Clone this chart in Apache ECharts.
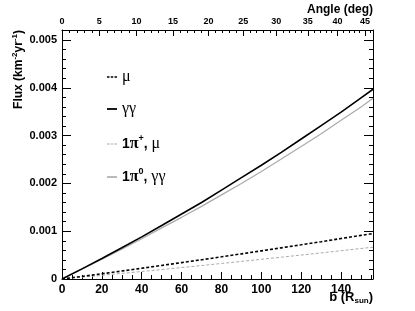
<!DOCTYPE html>
<html><head><meta charset="utf-8">
<script src="https://cdn.jsdelivr.net/npm/echarts@6/dist/echarts.min.js"></script>
<style>html,body{margin:0;padding:0;background:#fff}#c{width:415px;height:311px}</style>
</head><body><div id="c"></div>
<script>
// impact parameter b (R_sun)
const bValues = [0,10,20,30,40,50,60,70,80,90,100,110,120,130,140,150,156];
// Flux (km^-2 yr^-1)
const muFlux      = [0,0.000054,0.00011,0.000167,0.000225,0.000284,0.000343,0.000403,0.000464,0.000526,0.000589,0.000652,0.000716,0.000781,0.000847,0.000913,0.00095];
const ggFlux      = [0,0.000212,0.00043,0.000653,0.000882,0.00112,0.00136,0.0016,0.00186,0.00212,0.00238,0.00265,0.00293,0.00321,0.00349,0.00379,0.00397];
const piPlusMu    = [0,0.000038,0.000077,0.000117,0.000157,0.000198,0.00024,0.000282,0.000325,0.000368,0.000412,0.000456,0.000501,0.000546,0.000592,0.000638,0.000666];
const piZeroGG    = [0,0.000205,0.000412,0.000625,0.000843,0.00107,0.00129,0.00152,0.00176,0.002,0.00225,0.00251,0.00277,0.00304,0.00332,0.0036,0.00378];
// top axis: angle (deg), b = 1 AU * sin(angle), 1 AU = 215 R_sun
const AU_RSUN = 215;
const angleMajor = [0,5,10,15,20,25,30,35,40,45];
const angleMinor = [0,1,2,3,4,5,6,7,8,9,10,11,12,13,14,15,16,17,18,19,20,21,22,23,24,25,26,27,28,29,30,31,32,33,34,35,36,37,38,39,40,41,42,43,44,45,46];

const toB = a => AU_RSUN * Math.sin(a * Math.PI / 180);
const pairs = arr => bValues.map((b, i) => [b, arr[i]]);

const FONT = 'Liberation Sans, Arial, Helvetica, sans-serif';
const SERIF = 'Liberation Serif, DejaVu Serif, serif';
const XMAX = 156, YMAX = 0.00521;

const rich = {
  g: {fontFamily: SERIF, fontSize: 16, color: '#000', lineHeight: 20},
  b: {fontFamily: FONT, fontWeight: 'bold', fontSize: 14, color: '#000', lineHeight: 20},
  bs: {fontFamily: SERIF, fontWeight: 'bold', fontSize: 16, color: '#000', lineHeight: 20},
  sup: {fontFamily: FONT, fontWeight: 'bold', fontSize: 9, color: '#000', verticalAlign: 'top', lineHeight: 12},
  n: {fontFamily: FONT, fontWeight: 'bold', fontSize: 14, color: '#000', lineHeight: 20}
};
const names = ['mu', 'gg', 'pimu', 'pigg'];
const labels = {
  mu: '{g|μ}',
  gg: '{g|γγ}',
  pimu: '{b|1}{bs|π}{sup|+}{n|, }{g|μ}',
  pigg: '{b|1}{bs|π}{sup|0}{n|, }{g|γγ}'
};
const DASH_ICON = 'path://M0,0h3v1.4h-3zM4.5,0h3v1.4h-3zM9,0h3v1.4h-3z';
const SOLID_ICON = 'path://M0,0h12v1.4h-12z';
const icons = {mu: DASH_ICON, gg: SOLID_ICON, pimu: DASH_ICON, pigg: SOLID_ICON};
const iconHeights = {mu: 1.6, gg: 1.8, pimu: 1.1, pigg: 1.6};
const legendTops = [64, 96, 129, 162];

const chart = echarts.init(document.getElementById('c'), null, {renderer: 'canvas'});
const axisLineStyle = {color: '#000', width: 1};
chart.setOption({
  animation: false,
  backgroundColor: '#fff',
  grid: {left: 62, right: 42, top: 30, bottom: 32, containLabel: false, outerBoundsMode: 'none'},
  legend: names.map((n, i) => ({
    data: [{name: n, icon: icons[n]}], left: 102, top: legendTops[i], orient: 'vertical',
    itemWidth: 10, itemHeight: iconHeights[n], itemGap: 0, symbolKeepAspect: false,
    formatter: name => labels[name],
    textStyle: {rich: rich}
  })),
  xAxis: [
    {type: 'value', position: 'bottom', min: 0, max: XMAX, interval: 20,
     axisLine: {show: true, onZero: false, lineStyle: axisLineStyle},
     axisTick: {show: true, inside: true, length: 7, lineStyle: axisLineStyle},
     minorTick: {show: true, splitNumber: 4, length: 4, lineStyle: axisLineStyle},
     splitLine: {show: false}, minorSplitLine: {show: false},
     axisLabel: {fontFamily: FONT, fontWeight: 'bold', fontSize: 12, color: '#000', margin: 5, showMaxLabel: false}},
    {type: 'value', position: 'top', min: 0, max: XMAX,
     axisLine: {show: true, onZero: false, lineStyle: axisLineStyle},
     axisTick: {show: true, inside: true, length: 6, lineStyle: axisLineStyle, customValues: angleMajor.map(toB)},
     splitLine: {show: false},
     axisLabel: {fontFamily: FONT, fontWeight: 'bold', fontSize: 9, color: '#000', margin: 4,
       customValues: angleMajor.map(toB),
       formatter: v => String(Math.round(Math.asin(v / AU_RSUN) * 180 / Math.PI))}},
    {type: 'value', position: 'top', min: 0, max: XMAX,
     axisLine: {show: false, onZero: false},
     axisTick: {show: true, inside: true, length: 3, lineStyle: axisLineStyle, customValues: angleMinor.map(toB)},
     splitLine: {show: false},
     axisLabel: {show: false}}
  ],
  yAxis: [
    {type: 'value', position: 'left', min: 0, max: YMAX, interval: 0.001,
     axisLine: {show: true, onZero: false, lineStyle: axisLineStyle},
     axisTick: {show: true, inside: true, length: 9, lineStyle: axisLineStyle},
     minorTick: {show: true, splitNumber: 5, length: 4, lineStyle: axisLineStyle},
     splitLine: {show: false},
     axisLabel: {fontFamily: FONT, fontWeight: 'bold', fontSize: 11, color: '#000', margin: 5, showMaxLabel: false,
       formatter: v => v === 0 ? '0' : v.toFixed(3)}},
    {type: 'value', position: 'right', min: 0, max: YMAX, interval: 0.001,
     axisLine: {show: true, onZero: false, lineStyle: axisLineStyle},
     axisTick: {show: true, inside: true, length: 9, lineStyle: axisLineStyle},
     minorTick: {show: true, splitNumber: 5, length: 4, lineStyle: axisLineStyle},
     splitLine: {show: false},
     axisLabel: {show: false}}
  ],
  series: [
    {name: 'pigg', type: 'line', data: pairs(piZeroGG), symbol: 'none', smooth: false,
     lineStyle: {color: '#aaaaaa', width: 1.2, type: 'solid'}, itemStyle: {color: '#aaaaaa'}},
    {name: 'pimu', type: 'line', data: pairs(piPlusMu), symbol: 'none',
     lineStyle: {color: '#aaaaaa', width: 1, type: [3, 2]}, itemStyle: {color: '#aaaaaa'}},
    {name: 'mu', type: 'line', data: pairs(muFlux), symbol: 'none',
     lineStyle: {color: '#000', width: 1.6, type: [3, 2]}, itemStyle: {color: '#000'}},
    {name: 'gg', type: 'line', data: pairs(ggFlux), symbol: 'none',
     lineStyle: {color: '#000', width: 1.6, type: 'solid'}, itemStyle: {color: '#000'}}
  ],
  graphic: [
    {type: 'text', x: 11, y: 30, rotation: Math.PI / 2,
     style: {text: '{m|Flux (km}{s|-2}{m|yr}{s|-1}{m|)}', align: 'right', verticalAlign: 'top',
       rich: {m: {fontFamily: FONT, fontWeight: 'bold', fontSize: 12, fill: '#000', lineHeight: 15},
              s: {fontFamily: FONT, fontWeight: 'bold', fontSize: 8, fill: '#000', verticalAlign: 'top', lineHeight: 10}}}},
    {type: 'text', x: 373, y: 4,
     style: {text: 'Angle (deg)', align: 'right', verticalAlign: 'top', fontFamily: FONT, fontWeight: 'bold', fontSize: 12, fill: '#000'}},
    {type: 'text', x: 373, y: 289,
     style: {text: '{m|b (R}{s|sun}{m|)}', align: 'right', verticalAlign: 'top',
       rich: {m: {fontFamily: FONT, fontWeight: 'bold', fontSize: 13, fill: '#000', lineHeight: 16},
              s: {fontFamily: FONT, fontWeight: 'bold', fontSize: 8, fill: '#000', verticalAlign: 'bottom', lineHeight: 10}}}}
  ]
});
</script></body></html>
